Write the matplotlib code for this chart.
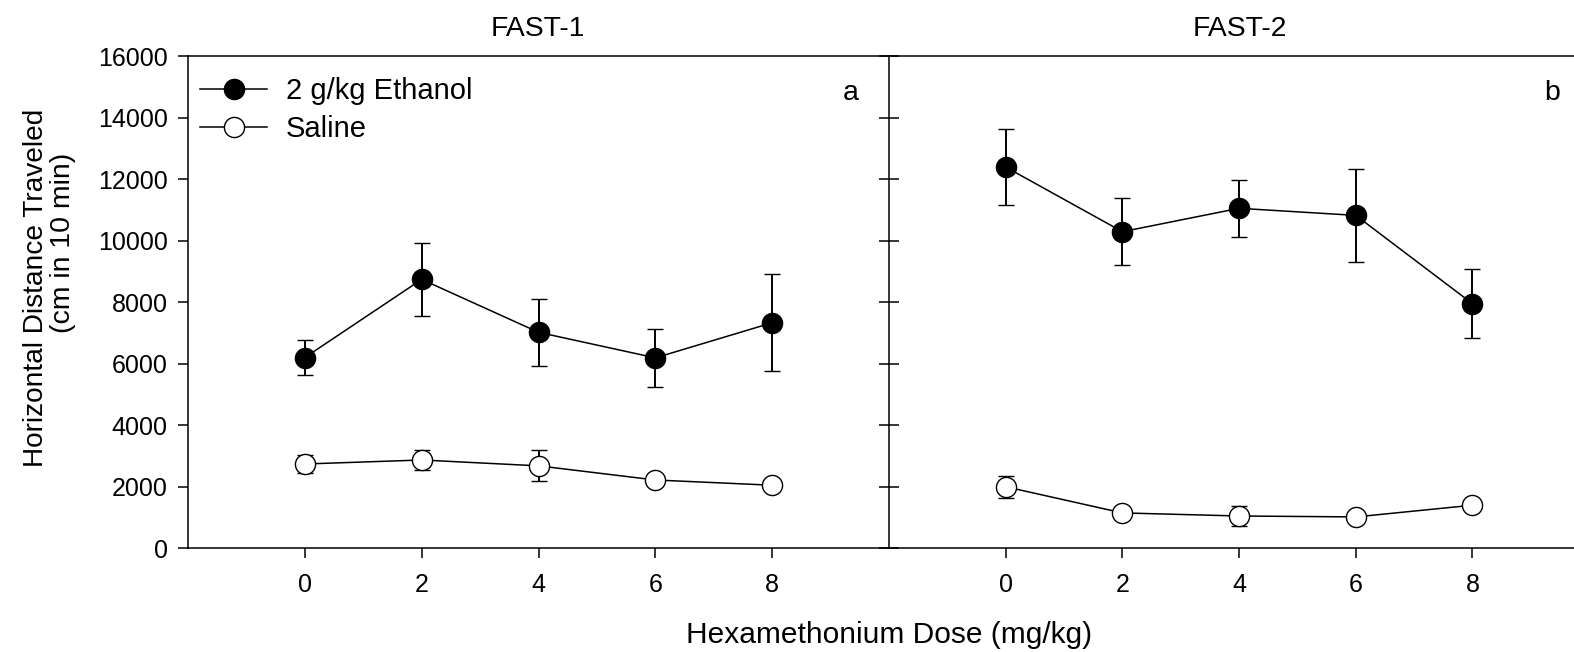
import matplotlib
matplotlib.use("Agg")
import matplotlib.pyplot as plt
from matplotlib.lines import Line2D

plt.rcParams['font.family'] = ['Liberation Sans', 'DejaVu Sans']

doses = [0, 2, 4, 6, 8]
fast1_eth = [6200, 8740, 7020, 6190, 7330]
fast1_eth_err = [575, 1190, 1090, 950, 1580]
fast1_sal = [2740, 2870, 2680, 2220, 2050]
fast1_sal_err = [300, 320, 500, 150, 100]
fast2_eth = [12390, 10290, 11050, 10820, 7950]
fast2_eth_err = [1240, 1080, 930, 1520, 1120]
fast2_sal = [2000, 1150, 1050, 1020, 1400]
fast2_sal_err = [350, 200, 330, 100, 100]
series_labels = ["2 g/kg Ethanol", "Saline"]
panel_titles = ["FAST-1", "FAST-2"]
panel_letters = ["a", "b"]
yticks = [0, 2000, 4000, 6000, 8000, 10000, 12000, 14000, 16000]

W, H = 1574, 652
fig = plt.figure(figsize=(W / 100, H / 100), dpi=100)
TICK_FS = 18
LAB_FS = 21

bot = (H - 548.3) / H
hgt = 492.3 / H
ax1 = fig.add_axes([188 / W, bot, 701 / W, hgt])
ax2 = fig.add_axes([889 / W, bot, 685 / W, hgt])

MS = 14.5
common = dict(color='black', lw=1.1, elinewidth=1.4, capsize=5.5, capthick=1.4,
              marker='o', markersize=MS, markeredgewidth=1.0, markeredgecolor='black')

def draw(ax, eth, eth_err, sal, sal_err):
    ax.errorbar(doses, eth, yerr=eth_err, markerfacecolor='black', **common)
    ax.errorbar(doses, sal, yerr=sal_err, markerfacecolor='white', **common)
    ax.set_ylim(0, 16000)
    ax.set_xticks(doses)
    ax.set_yticks(yticks)
    for s in ax.spines.values():
        s.set_linewidth(1.1)

draw(ax1, fast1_eth, fast1_eth_err, fast1_sal, fast1_sal_err)
draw(ax2, fast2_eth, fast2_eth_err, fast2_sal, fast2_sal_err)

ax1.set_xlim(-2, 10)
ax2.set_xlim(-2, 9.74)

ax1.spines['right'].set_visible(False)
ax2.spines['right'].set_visible(False)

ax1.tick_params(axis='x', direction='out', length=7, width=1.1, labelsize=TICK_FS, pad=11)
ax1.tick_params(axis='y', direction='out', length=7, width=1.1, labelsize=TICK_FS, pad=7.5)
ax2.tick_params(axis='x', direction='out', length=7, width=1.1, labelsize=TICK_FS, pad=11)
ax2.tick_params(axis='y', direction='inout', length=15, width=1.1, labelleft=False)

for ax, t, x_c in zip([ax1, ax2], panel_letters, [0.9458, 0.968]):
    ax.text(x_c, 0.9106, t, transform=ax.transAxes, ha='center', va='baseline', fontsize=20.5)

fig.text(538 / W, 1 - 28.5 / H, panel_titles[0], ha='center', va='center', fontsize=20.3)
fig.text(1240 / W, 1 - 28.5 / H, panel_titles[1], ha='center', va='center', fontsize=20.3)

fig.text(889 / W, 1 - 643 / H, "Hexamethonium Dose (mg/kg)", ha='center', va='baseline',
         fontsize=21.5)
fig.text(43 / W, 1 - 287.5 / H, "Horizontal Distance Traveled", rotation=90,
         rotation_mode='anchor', ha='center', va='baseline', fontsize=20.2)
fig.text(70 / W, 1 - 242.5 / H, "(cm in 10 min)", rotation=90,
         rotation_mode='anchor', ha='center', va='baseline', fontsize=20.5)

handles = [
    Line2D([], [], color='black', lw=1.1, marker='o', markersize=MS,
           markerfacecolor='black', markeredgecolor='black', markeredgewidth=1.0),
    Line2D([], [], color='black', lw=1.1, marker='o', markersize=MS,
           markerfacecolor='white', markeredgecolor='black', markeredgewidth=1.0),
]
ax1.legend(handles, series_labels, loc='upper left', bbox_to_anchor=(0.0171, 0.9575),
           frameon=False, fontsize=LAB_FS, handlelength=2.3, handletextpad=0.65,
           labelspacing=0.36, borderpad=0, borderaxespad=0)

fig.savefig("out.png", dpi=100)
